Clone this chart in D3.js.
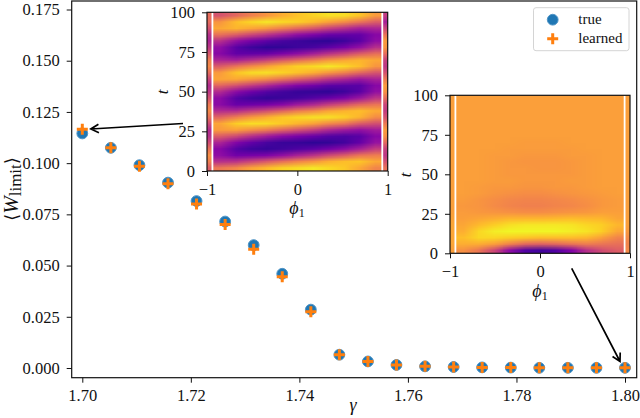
<!DOCTYPE html>
<html>
<head>
<meta charset="utf-8">
<style>
  html, body { margin: 0; padding: 0; background: #fff; }
  svg { display: block; }
  text { font-family: "Liberation Serif", "DejaVu Serif", serif; fill: #111; }
</style>
<script src="https://cdnjs.cloudflare.com/ajax/libs/d3/7.9.0/d3.min.js"></script>
</head>
<body>
<div id="vis"></div>
<script>
// main scatter data
var gamma = [1.7, 1.70526, 1.71053, 1.71579, 1.72105, 1.72632, 1.73158, 1.73684, 1.74211, 1.74737,
  1.75263, 1.75789, 1.76316, 1.76842, 1.77368, 1.77895, 1.78421, 1.78947, 1.79474, 1.8];
var wTrue = [0.1145, 0.1075, 0.099, 0.0905, 0.0815, 0.0715, 0.06, 0.046, 0.0285, 0.0065,
  0.0032, 0.0015, 0.0008, 0.0005, 0.0003, 0.0002, 0.0001, 0.0001, 0.0001, 0.0001];
var wLearned = [0.1165, 0.1075, 0.0985, 0.09, 0.08, 0.07, 0.058, 0.0445, 0.0275, 0.0065,
  0.0032, 0.0015, 0.0008, 0.0005, 0.0003, 0.0002, 0.0001, 0.0001, 0.0001, 0.0001];

var xTicks = [1.70, 1.72, 1.74, 1.76, 1.78, 1.80];
var yTicks = [0, 0.025, 0.05, 0.075, 0.1, 0.125, 0.15, 0.175];
var insetTTicks = [0, 25, 50, 75, 100];
var insetPhiTicks = [-1, 0, 1];
var legendLabels = ['true', 'learned'];

// heatmap rows go from t=2 up to t=98 in steps of 4, columns span the inner region
var heatA = [
  [.60,.66,.75,.82,.89,.92,.95,.91,.86,.76,.64],
  [.34,.35,.42,.49,.57,.64,.70,.78,.83,.85,.76],
  [.22,.15,.16,.18,.23,.29,.35,.43,.50,.59,.62],
  [.20,.09,.05,.04,.055,.08,.11,.155,.21,.28,.39],
  [.30,.19,.12,.07,.045,.04,.03,.035,.06,.12,.24],
  [.50,.43,.34,.27,.21,.17,.13,.09,.08,.10,.20],
  [.72,.73,.67,.61,.53,.46,.39,.31,.26,.23,.27],
  [.75,.87,.92,.91,.86,.80,.74,.66,.60,.50,.45],
  [.53,.62,.71,.78,.86,.90,.93,.93,.88,.80,.67],
  [.32,.32,.38,.44,.52,.60,.66,.74,.79,.83,.77],
  [.21,.13,.14,.16,.20,.26,.31,.39,.46,.54,.59],
  [.21,.09,.05,.035,.045,.06,.09,.13,.18,.25,.36],
  [.32,.21,.14,.09,.06,.04,.035,.03,.05,.10,.23],
  [.53,.46,.38,.31,.24,.19,.155,.11,.10,.10,.20],
  [.75,.76,.71,.66,.58,.50,.43,.35,.30,.25,.29],
  [.72,.85,.92,.93,.89,.84,.78,.70,.63,.54,.47],
  [.50,.59,.67,.74,.82,.88,.91,.95,.90,.83,.70],
  [.30,.28,.34,.40,.48,.55,.62,.70,.75,.80,.76],
  [.20,.12,.12,.13,.18,.22,.28,.35,.42,.50,.57],
  [.22,.10,.05,.03,.035,.05,.07,.11,.16,.23,.34],
  [.34,.23,.16,.11,.07,.05,.035,.03,.05,.10,.22],
  [.57,.50,.42,.35,.28,.22,.18,.13,.12,.12,.20],
  [.76,.80,.75,.70,.62,.55,.48,.40,.34,.28,.30],
  [.70,.83,.90,.95,.91,.88,.82,.74,.67,.59,.50],
  [.47,.54,.63,.70,.78,.84,.89,.93,.92,.85,.72]
];
var heatB = [
  [.74,.66,.50,.30,.14,.10,.14,.26,.42,.52,.58],
  [.82,.82,.78,.70,.62,.60,.62,.66,.68,.66,.64],
  [.86,.92,.92,.90,.88,.86,.86,.86,.84,.78,.70],
  [.82,.92,.97,.99,.99,.99,.99,.97,.95,.90,.80],
  [.80,.85,.90,.94,.96,.96,.96,.95,.92,.90,.84],
  [.78,.80,.82,.84,.84,.84,.85,.86,.85,.84,.80],
  [.77,.76,.75,.74,.73,.73,.74,.75,.76,.78,.78],
  [.76,.75,.72,.70,.69,.69,.70,.71,.73,.76,.77],
  [.77,.75,.73,.71,.70,.70,.71,.72,.74,.76,.77],
  [.78,.77,.75,.74,.73,.73,.74,.75,.76,.77,.78],
  [.78,.77,.76,.76,.75,.75,.76,.76,.77,.78,.78],
  [.78,.78,.77,.77,.76,.76,.76,.77,.77,.78,.78],
  [.78,.78,.77,.76,.76,.76,.76,.76,.77,.78,.78],
  [.78,.78,.77,.76,.76,.75,.75,.76,.77,.78,.78],
  [.78,.78,.77,.76,.75,.75,.75,.76,.77,.78,.78],
  [.78,.78,.77,.77,.76,.76,.76,.77,.77,.78,.78],
  [.78,.78,.78,.77,.77,.77,.77,.77,.78,.78,.78],
  [.78,.78,.78,.78,.77,.77,.77,.78,.78,.78,.78],
  [.78,.78,.78,.78,.78,.78,.78,.78,.78,.78,.78],
  [.78,.78,.78,.78,.78,.78,.78,.78,.78,.78,.78],
  [.78,.78,.78,.78,.78,.78,.78,.78,.78,.78,.78],
  [.78,.78,.78,.78,.78,.78,.78,.78,.78,.78,.78],
  [.78,.78,.78,.78,.78,.78,.78,.78,.78,.78,.78],
  [.78,.78,.78,.78,.78,.78,.78,.78,.78,.78,.78],
  [.78,.78,.78,.78,.78,.78,.78,.78,.78,.78,.78]
];
// thin strips outside the white lines
var edgeALeft = [.50,.62,.68,.58,.44,.34,.32,.44,.58,.66,.60,.46,.36,.32,.42,.56,.66,.62,.48,.36,.30,.34,.46,.56,.56];
var edgeARight = [.58,.46,.36,.40,.54,.68,.72,.60,.46,.38,.42,.56,.68,.72,.60,.46,.36,.40,.56,.70,.72,.58,.42,.28,.38];
var edgeBLeft = [.78,.80,.80,.80,.80,.79,.78,.78,.78,.78,.78,.78,.78,.78,.78,.78,.78,.78,.78,.78,.78,.78,.78,.78,.78];
var edgeBRight = [.72,.70,.72,.76,.78,.78,.78,.78,.78,.78,.78,.78,.78,.78,.78,.78,.78,.78,.78,.78,.78,.78,.78,.78,.78];

var whiteLinePhi = 0.94;
var width = 640;
var height = 418;
var tickFont = 16.5;

// A is drawn with a slightly brighter ramp, B with the plain one
var colorA = d3.scaleSequentialPow(d3.interpolatePlasma).exponent(0.8).domain([0, 1]);
var colorB = d3.scaleSequential(d3.interpolatePlasma).domain([0, 1]);

var svg = d3.select('#vis').append('svg')
    .attr('width', width)
    .attr('height', height)
    .attr('viewBox', '0 0 ' + width + ' ' + height);

var x = d3.scaleLinear().domain([1.7, 1.8]).range([82.3, 625]);
var y = d3.scaleLinear().domain([0, 0.175]).range([368, 9.5]);

var frame = { left: 71.7, right: 636.7, top: 1, bottom: 377.7 };

// 軸
var xAxis = d3.axisBottom(x).tickValues(xTicks).tickFormat(d3.format('.2f')).tickSize(5).tickPadding(7);
var yAxis = d3.axisLeft(y).tickValues(yTicks).tickFormat(d3.format('.3f')).tickSize(5).tickPadding(7);

var main = svg.append('g');
main.append('g').attr('transform', 'translate(0,' + frame.bottom + ')').call(xAxis).call(styleAxis, tickFont);
main.append('g').attr('transform', 'translate(' + frame.left + ',0)').call(yAxis).call(styleAxis, tickFont);
main.append('rect')
    .attr('x', frame.left).attr('y', frame.top)
    .attr('width', frame.right - frame.left).attr('height', frame.bottom - frame.top)
    .attr('fill', 'none').attr('stroke', '#111').attr('stroke-width', 1.2);

main.append('text').attr('x', 353).attr('y', 411)
    .attr('text-anchor', 'middle').attr('font-size', 18).attr('font-style', 'italic').text('γ');

var yLabel = main.append('text')
    .attr('transform', 'translate(18,189) rotate(-90)')
    .attr('text-anchor', 'middle').attr('font-size', 21);
yLabel.append('tspan').attr('font-family', 'DejaVu Sans').attr('font-size', 18).text('⟨');
yLabel.append('tspan').attr('font-style', 'italic').text('W');
yLabel.append('tspan').attr('font-size', 17).attr('dy', 3).text('limit');
yLabel.append('tspan').attr('font-family', 'DejaVu Sans').attr('font-size', 18).attr('dy', -3).text('⟩');

// 点
var circles = gamma.map(function (g, i) { return { x: g, y: wTrue[i] }; });
var pluses = gamma.map(function (g, i) { return { x: g, y: wLearned[i] }; });
var plusPath = 'M-5.5,0H5.5M0,-5.5V5.5';

main.append('g').selectAll('circle')
    .data(circles).enter().append('circle')
    .attr('cx', function (d) { return x(d.x); })
    .attr('cy', function (d) { return y(d.y); })
    .attr('r', 5.4)
    .attr('fill', '#1f77b4')
    .attr('stroke', '#4f94c6')
    .attr('stroke-width', 1);

main.append('g').selectAll('path')
    .data(pluses).enter().append('path')
    .attr('transform', function (d) { return 'translate(' + x(d.x) + ',' + y(d.y) + ')'; })
    .attr('d', plusPath)
    .attr('fill', 'none')
    .attr('stroke', '#ff7f0e')
    .attr('stroke-width', 3);

// 矢印
drawArrow(183, 123.5, x(1.7) + 8.5, 129);
drawArrow(571.7, 268.3, x(1.8) - 5, 361.5);

// インセット
drawInset({ left: 207, right: 387.7, top: 12.3, bottom: 171 }, heatA, edgeALeft, edgeARight, colorA, 297, 214, 168, 92);
drawInset({ left: 450, right: 630, top: 95.3, bottom: 253.3 }, heatB, edgeBLeft, edgeBRight, colorB, 540, 297, 411, 175);

// 凡例
var legend = svg.append('g');
legend.append('rect')
    .attr('x', 533.5).attr('y', 7.7).attr('width', 95.5).attr('height', 43)
    .attr('rx', 2.5).attr('fill', '#fff').attr('stroke', '#d4d4d4').attr('stroke-width', 1);
legend.append('circle').attr('cx', 552.7).attr('cy', 19.7).attr('r', 5.4)
    .attr('fill', '#1f77b4').attr('stroke', '#4f94c6').attr('stroke-width', 1);
legend.append('path').attr('transform', 'translate(552.7,38.7)').attr('d', plusPath)
    .attr('fill', 'none').attr('stroke', '#ff7f0e').attr('stroke-width', 3);
legend.selectAll('text')
    .data(legendLabels).enter().append('text')
    .attr('x', 578.3)
    .attr('y', function (d, i) { return 23.5 + i * 19; })
    .attr('font-size', 15)
    .text(function (d) { return d; });


function styleAxis(sel, fontSize) {
  sel.select('.domain').remove();
  sel.selectAll('.tick line').attr('stroke', '#111').attr('stroke-width', 1);
  sel.selectAll('.tick text').attr('font-size', fontSize)
      .attr('font-family', '"Liberation Serif", serif').attr('fill', '#111');
}

function drawArrow(x1, y1, x2, y2) {
  var a = Math.atan2(y2 - y1, x2 - x1);
  var head = 9;
  var spread = 0.5;
  var p = d3.path();
  p.moveTo(x1, y1);
  p.lineTo(x2, y2);
  p.moveTo(x2 - head * Math.cos(a - spread), y2 - head * Math.sin(a - spread));
  p.lineTo(x2, y2);
  p.lineTo(x2 - head * Math.cos(a + spread), y2 - head * Math.sin(a + spread));
  svg.append('path').attr('d', p.toString())
      .attr('fill', 'none').attr('stroke', '#000').attr('stroke-width', 1.7);
}

// 行列をカラースケールで小さなcanvasに描いて画像にする
function gridImage(rows, color) {
  var c = document.createElement('canvas');
  c.width = rows[0].length;
  c.height = rows.length;
  var ctx = c.getContext('2d');
  rows.forEach(function (row, j) {
    row.forEach(function (v, i) {
      ctx.fillStyle = color(v);
      // t grows upward, so the first row goes to the bottom
      ctx.fillRect(i, rows.length - 1 - j, 1, 1);
    });
  });
  return c.toDataURL();
}

function drawInset(box, rows, edgeLeft, edgeRight, color, phiX, phiY, tX, tY) {
  var px = d3.scaleLinear().domain([-1, 1]).range([box.left, box.right]);
  var pt = d3.scaleLinear().domain([0, 100]).range([box.bottom, box.top]);
  var g = svg.append('g');

  function place(href, from, to) {
    g.append('image')
        .attr('href', href)
        .attr('x', px(from)).attr('y', box.top)
        .attr('width', px(to) - px(from)).attr('height', box.bottom - box.top)
        .attr('preserveAspectRatio', 'none');
  }

  place(gridImage(edgeLeft.map(function (v) { return [v]; }), color), -1, -whiteLinePhi);
  place(gridImage(edgeRight.map(function (v) { return [v]; }), color), whiteLinePhi, 1);
  place(gridImage(rows, color), -whiteLinePhi, whiteLinePhi);

  g.selectAll('line.white')
      .data([-whiteLinePhi, whiteLinePhi]).enter().append('line')
      .attr('class', 'white')
      .attr('x1', function (d) { return px(d); })
      .attr('x2', function (d) { return px(d); })
      .attr('y1', box.top).attr('y2', box.bottom)
      .attr('stroke', '#fff').attr('stroke-width', 1.8);

  g.append('g').attr('transform', 'translate(0,' + box.bottom + ')')
      .call(d3.axisBottom(px).tickValues(insetPhiTicks).tickFormat(function (d) { return d < 0 ? '\u2212' + (-d) : d; }).tickSize(5).tickPadding(7))
      .call(styleAxis, tickFont);
  g.append('g').attr('transform', 'translate(' + box.left + ',0)')
      .call(d3.axisLeft(pt).tickValues(insetTTicks).tickSize(5).tickPadding(7))
      .call(styleAxis, tickFont);

  g.append('rect')
      .attr('x', box.left).attr('y', box.top)
      .attr('width', box.right - box.left).attr('height', box.bottom - box.top)
      .attr('fill', 'none').attr('stroke', '#111').attr('stroke-width', 1.2);

  var phi = g.append('text').attr('x', phiX).attr('y', phiY)
      .attr('text-anchor', 'middle').attr('font-size', 18);
  phi.append('tspan').attr('font-style', 'italic').text('ϕ');
  phi.append('tspan').attr('font-size', 12).attr('dy', 3).text('1');

  g.append('text')
      .attr('transform', 'translate(' + tX + ',' + tY + ') rotate(-90)')
      .attr('text-anchor', 'middle').attr('font-size', 17).attr('font-style', 'italic')
      .text('t');
}
</script>
</body>
</html>
